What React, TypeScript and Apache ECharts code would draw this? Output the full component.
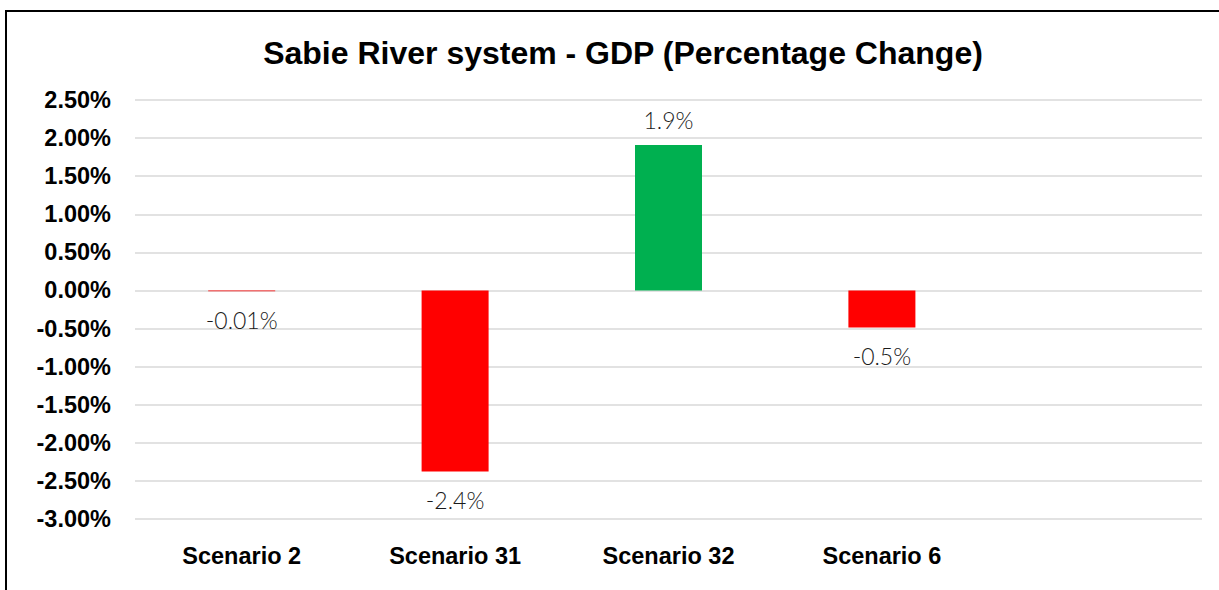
import React, { useEffect, useRef } from "react";
import * as echarts from "echarts";

const title = "Sabie River system - GDP (Percentage Change)";
const categories = ["Scenario 2", "Scenario 31", "Scenario 32", "Scenario 6", ""];
const values = [-0.0001, -0.02375, 0.0191, -0.00485];
const valueLabels = ["-0.01%", "-2.4%", "1.9%", "-0.5%"];
const barColors = ["#FF0000", "#FF0000", "#00B050", "#FF0000"];
const yMin = -0.03;
const yMax = 0.025;
const yStep = 0.005;

export default function App() {
  const ref = useRef<HTMLDivElement>(null);
  useEffect(() => {
    document.body.style.margin = "0";
    const chart = echarts.init(ref.current!, null, { renderer: "svg" });
    chart.setOption({
      animation: false,
      backgroundColor: "#ffffff",
      title: {
        text: title,
        left: 618,
        textAlign: "center",
        top: 32,
        textStyle: { fontFamily: "Liberation Sans, Arial, sans-serif", fontWeight: "bold", fontSize: 32, color: "#000" },
      },
      graphic: [
        {
          type: "rect",
          shape: { x: 6, y: 11, width: 1230, height: 600 },
          style: { fill: "none", stroke: "#000", lineWidth: 2 },
          silent: true,
        },
      ],
      grid: { left: 135, right: 17, top: 100, bottom: 71 },
      xAxis: {
        type: "category",
        data: categories,
        axisLine: { show: false },
        axisTick: { show: false },
        axisLabel: {
          margin: 25,
          fontFamily: "Liberation Sans, Arial, sans-serif",
          fontWeight: "bold",
          fontSize: 23.5,
          color: "#000",
        },
      },
      yAxis: {
        type: "value",
        min: yMin,
        max: yMax,
        interval: yStep,
        axisLine: { show: false },
        axisTick: { show: false },
        splitLine: { lineStyle: { color: "#d9d9d9", width: 1.5 } },
        axisLabel: {
          margin: 24,
          fontFamily: "Liberation Sans, Arial, sans-serif",
          fontWeight: "bold",
          fontSize: 23.5,
          color: "#000",
          formatter: (v: number) => (v * 100).toFixed(2) + "%",
        },
      },
      series: [
        {
          type: "bar",
          barWidth: 67,
          data: values.map((v, i) => ({
            value: v,
            itemStyle: { color: barColors[i] },
            label: {
              show: true,
              position: v >= 0 ? "top" : "bottom",
              distance: v >= 0 ? 13 : 17,
              formatter: valueLabels[i],
              fontFamily: "Lato, sans-serif",
              fontWeight: 300,
              fontSize: 23,
              color: "#1a1a1a",
            },
          })),
        },
      ],
    });
    return () => chart.dispose();
  }, []);
  return <div ref={ref} style={{ width: 1219, height: 590 }} />;
}
